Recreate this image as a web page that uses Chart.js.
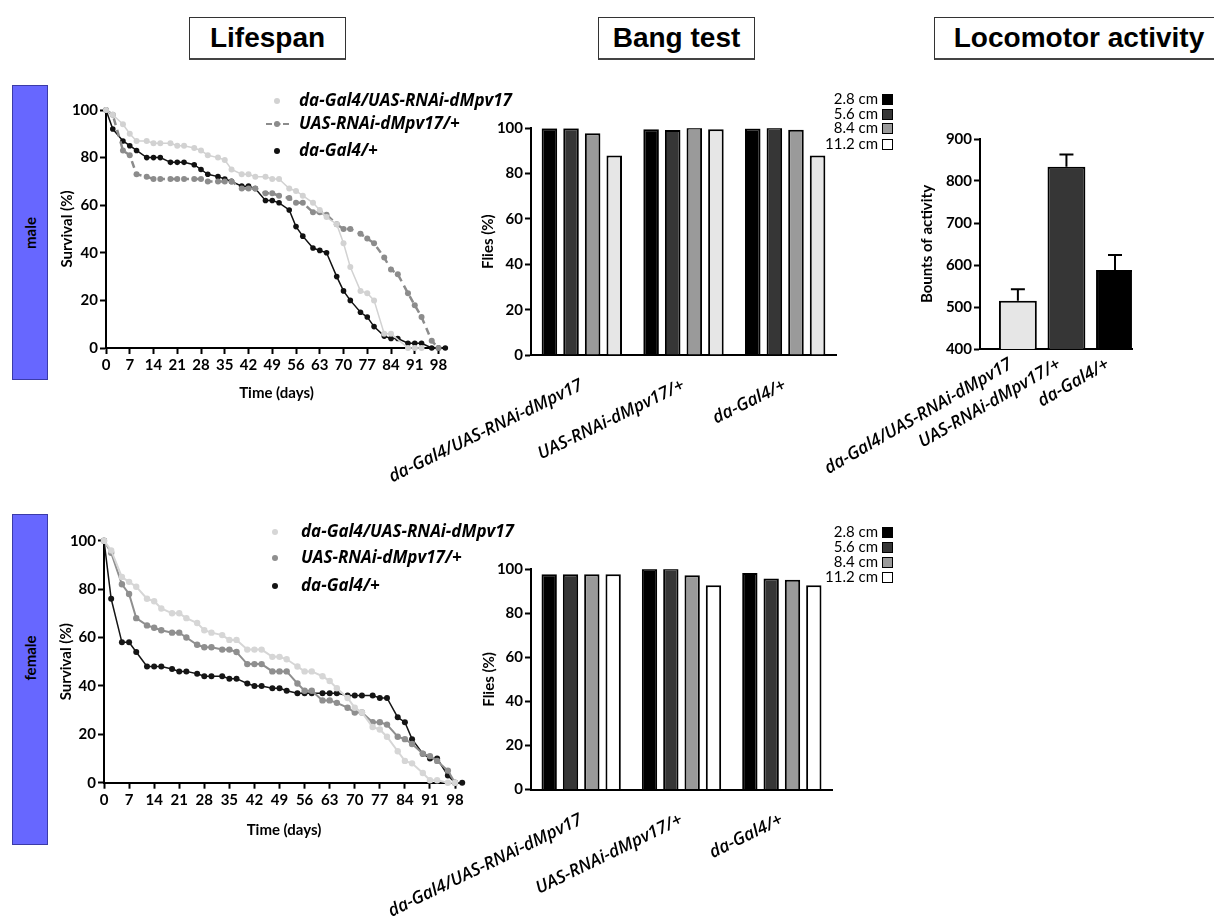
<!DOCTYPE html>
<html>
<head>
<meta charset="utf-8">
<script src="https://cdn.jsdelivr.net/npm/chart.js@4.4.1/dist/chart.umd.min.js"></script>
<style>
  body { margin: 0; background: #fff; width: 1214px; height: 921px; position: relative; overflow: hidden; }
  canvas { position: absolute; }
  .title { position: absolute; top: 17px; height: 43px; border: 1px solid #333; border-bottom: 2px solid #444; box-sizing: border-box;
           font: bold 28px "Liberation Sans", Arial, sans-serif; display: flex; align-items: center; justify-content: center; background: #fff; }
  .side { position: absolute; left: 12px; width: 36px; background: #6767ff; border: 1px solid #3b3ba8; box-sizing: border-box; }
  .side span { position: absolute; left: 50%; transform: translate(-50%, -50%) rotate(-90deg); font: bold 15px Lato, sans-serif; white-space: nowrap; }
  .lg { position: absolute; font: italic bold 17px "Open Sans", sans-serif; white-space: nowrap; z-index: 5; }
  .mk { position: absolute; z-index: 5; }
  .bl { position: absolute; font: 15px Lato, sans-serif; white-space: nowrap; text-align: right; z-index: 5; }
  .sq { position: absolute; width: 11px; height: 11px; border: 1.5px solid #000; box-sizing: border-box; z-index: 5; }
</style>
</head>
<body>
<div class="title" style="left:189px;width:157px">Lifespan</div>
<div class="title" style="left:598px;width:157px">Bang test</div>
<div class="title" style="left:934px;width:290px">Locomotor activity</div>
<div class="side" style="top:85px;height:295px"><span style="top:147px">male</span></div>
<div class="side" style="top:514px;height:331px"><span style="top:143px">female</span></div>

<canvas id="maleLife" width="430" height="330" style="left:40px;top:90px"></canvas>
<canvas id="femLife" width="440" height="330" style="left:40px;top:520px"></canvas>
<canvas id="maleBang" width="540" height="400" style="left:320px;top:100px"></canvas>
<canvas id="femBang" width="540" height="390" style="left:320px;top:530px"></canvas>
<canvas id="loco" width="454" height="360" style="left:760px;top:120px"></canvas>

<script>
// survival sampling days (shared by all lifespan series)
const days = [0, 2, 5, 7, 9, 12, 14, 16, 19, 21, 23, 26, 28, 30, 33, 35, 37, 40, 42, 44, 47, 49, 51,
  54, 56, 58, 61, 63, 65, 68, 70, 72, 75, 77, 79, 82, 84, 86, 89, 91, 93, 96, 98, 100];
const dayTicks = [0, 7, 14, 21, 28, 35, 42, 49, 56, 63, 70, 77, 84, 91, 98];
const genotypes = ['da-Gal4/UAS-RNAi-dMpv17', 'UAS-RNAi-dMpv17/+', 'da-Gal4/+'];

// male survival (%)
const maleKD = [100, 98, 94, 90, 87, 87, 86, 86, 86, 85, 85, 84, 83, 81, 80, 79, 75, 73, 73, 72, 72, 71, 71,
  67, 66, 64, 61, 58, 55, 52, 44, 34, 24, 23, 20, 6, 6, null, 0, 0, 0, null, null, null];
const maleUAS = [100, 98, 83, 81, 73, 72, 71, 71, 71, 71, 71, 71, 71, 70, 70, 70, 70, 67, 67, 67, 65, 65, 64,
  63, 61, 61, 57, 57, 56, 52, 50, 50, 48, 46, 44, 38, 33, 31, 23, 18, 13, 3, 0, null];
const maleGal4 = [100, 92, 87, 85, 83, 80, 80, 80, 78, 78, 78, 77, 75, 73, 72, 71, 70, 68, 68, 67, 62, 62, 61,
  58, 51, 47, 42, 41, 40, 30, 24, 20, 15, 13, 9, 5, 4, 4, 2, 2, 2, 0, 0, 0];

// female survival (%)
const femKD = [100, 96, 85, 83, 81, 76, 75, 72, 70, 70, 68, 66, 63, 62, 61, 59, 59, 55, 55, 55, 52, 52, 51,
  48, 46, 46, 44, 42, 39, 35, 31, 29, 23, 22, 19, 13, 9, 8, 4, 1, 1, 0, 0, null];
const femUAS = [100, 95, 82, 78, 68, 65, 64, 63, 62, 62, 60, 57, 56, 56, 55, 55, 54, 49, 49, 49, 46, 46, 46,
  41, 38, 38, 34, 34, 33, 31, 29, 29, 25, 25, 24, 19, 18, 16, 12, 11, 9, 5, 0, null];
const femGal4 = [100, 76, 58, 58, 54, 48, 48, 48, 47, 46, 46, 45, 44, 44, 44, 43, 43, 41, 40, 40, 39, 39, 38,
  37, 37, 37, 37, 37, 37, 36, 36, 36, 36, 35, 35, 27, 25, 18, 12, 10, 10, 3, 0, 0];

// bang test, flies (%) per drop height
const heights = ['2.8 cm', '5.6 cm', '8.4 cm', '11.2 cm'];
const maleBang28 = [100, 99.6, 99.9];
const maleBang56 = [100, 99.3, 100.4];
const maleBang84 = [97.8, 100.3, 99.4];
const maleBang112 = [88, 99.6, 88];
const femBang28 = [97.8, 100.2, 98.3];
const femBang56 = [97.7, 100.5, 95.8];
const femBang84 = [97.7, 97.3, 95.2];
const femBang112 = [97.7, 92.7, 92.7];

// locomotor activity
const locoMeans = [515, 834, 588];
const locoErr = [27, 29, 36];

const tickFont = { family: 'Lato', weight: 'bold', size: 15 };
const titleFont = { family: 'Lato', weight: 'bold', size: 15 };
const catFont = { family: 'Open Sans', style: 'italic', weight: '600', size: 17.5 };

function pts(vals) {
  return days.map((d, i) => ({ x: d, y: vals[i] })).filter((p) => p.y !== null);
}

function grid(drawTicks) {
  return { display: true, drawOnChartArea: false, drawTicks: drawTicks, tickLength: 6, tickWidth: 2, tickColor: '#000', offset: false };
}
const border = { display: true, color: '#000', width: 2 };

function line(vals, color, width, radius, dash) {
  return {
    data: pts(vals), borderColor: color, backgroundColor: color, pointBackgroundColor: color,
    borderWidth: width, pointRadius: radius, pointBorderWidth: 0, borderDash: dash || [], tension: 0, clip: false
  };
}

function lifespan(id, sets, g) {
  new Chart(document.getElementById(id), {
    type: 'line',
    data: { datasets: sets },
    options: {
      responsive: false, animation: false,
      layout: { padding: { top: g.padTop, right: g.padRight } },
      plugins: { legend: { display: false }, tooltip: { enabled: false } },
      scales: {
        x: {
          type: 'linear', min: 0, max: 100.5,
          afterBuildTicks: (a) => { a.ticks = dayTicks.map((v) => ({ value: v })); },
          afterFit: (s) => { s.height = g.xh; },
          ticks: { font: tickFont, color: '#000', padding: 2, maxRotation: 0, autoSkip: false },
          title: { display: true, text: 'Time (days)', font: titleFont, color: '#000', padding: { top: 0, bottom: g.xt } },
          grid: grid(true), border: border
        },
        y: {
          min: 0, max: 100,
          ticks: { stepSize: 20, font: tickFont, color: '#000', padding: 2 },
          afterFit: (s) => { s.width = g.yw; },
          title: { display: true, text: 'Survival (%)', font: titleFont, color: '#000', padding: { top: g.yt, bottom: 0 } },
          grid: grid(true), border: border
        }
      }
    }
  });
}

lifespan('maleLife', [
  line(maleKD, '#d2d2d2', 1.5, 3),
  line(maleUAS, '#8c8c8c', 2.5, 3, [7, 5]),
  line(maleGal4, '#111', 1.5, 2.8)
], { padTop: 20, padRight: 23, xh: 72, xt: 18, yw: 66, yt: 18 });

lifespan('femLife', [
  line(femKD, '#d6d6d6', 2, 3.2),
  line(femUAS, '#8f8f8f', 2, 3.2),
  line(femGal4, '#151515', 1.5, 3)
], { padTop: 20.7, padRight: 16, xh: 67.3, xt: 11, yw: 64, yt: 17 });

function bang(id, vals, lightFill, g) {
  const fills = ['#000', '#363636', '#9a9a9a', lightFill];
  new Chart(document.getElementById(id), {
    type: 'bar',
    data: {
      labels: genotypes,
      datasets: heights.map((h, k) => ({
        label: h, data: vals[k], backgroundColor: fills[k], borderColor: '#000', borderWidth: 2,
        categoryPercentage: 0.85, barPercentage: 0.72
      }))
    },
    options: {
      responsive: false, animation: false,
      layout: { padding: { top: g.padTop, right: g.padRight } },
      plugins: { legend: { display: false }, tooltip: { enabled: false } },
      scales: {
        x: {
          afterFit: (s) => { s.height = g.xh; },
          ticks: { font: catFont, color: '#000', minRotation: 26, maxRotation: 26, autoSkip: false,
            padding: 20, labelOffset: 0 },
          grid: grid(false), border: border
        },
        y: {
          min: 0, max: 100,
          ticks: { stepSize: 20, font: tickFont, color: '#000', padding: 2 },
          afterFit: (s) => { s.width = g.yw; },
          title: { display: true, text: 'Flies (%)', font: titleFont, color: '#000', padding: { top: g.yt, bottom: 0 } },
          grid: grid(true), border: border
        }
      }
    }
  });
}

bang('maleBang', [maleBang28, maleBang56, maleBang84, maleBang112], '#e6e6e6',
  { padTop: 28.3, padRight: 24, xh: 145, yw: 211, yt: 159 });
bang('femBang', [femBang28, femBang56, femBang84, femBang112], '#fff',
  { padTop: 39.3, padRight: 28, xh: 130.5, yw: 211, yt: 160 });

const errorBars = {
  id: 'errorBars',
  afterDatasetsDraw(chart) {
    const meta = chart.getDatasetMeta(0);
    const y = chart.scales.y;
    const ctx = chart.ctx;
    ctx.save();
    ctx.strokeStyle = '#000';
    ctx.lineWidth = 2;
    meta.data.forEach((bar, i) => {
      const top = y.getPixelForValue(locoMeans[i] + locoErr[i]);
      ctx.beginPath();
      ctx.moveTo(bar.x, bar.y);
      ctx.lineTo(bar.x, top);
      ctx.moveTo(bar.x - 7, top);
      ctx.lineTo(bar.x + 7, top);
      ctx.stroke();
    });
    ctx.restore();
  }
};

new Chart(document.getElementById('loco'), {
  type: 'bar',
  data: {
    datasets: [{
      data: locoMeans.map((v, i) => ({ x: i, y: v })),
      backgroundColor: ['#e6e6e6', '#363636', '#000'], borderColor: '#000', borderWidth: 2,
      categoryPercentage: 1, barPercentage: 0.78
    }]
  },
  options: {
    responsive: false, animation: false,
    layout: { padding: { top: 19, right: 82 } },
    plugins: { legend: { display: false }, tooltip: { enabled: false } },
    scales: {
      x: {
        type: 'linear', min: -0.78, max: 2.35, offset: false,
        afterBuildTicks: (a) => { a.ticks = genotypes.map((g, i) => ({ value: i })); },
        afterFit: (s) => { s.height = 131; },
        ticks: { font: catFont, color: '#000', minRotation: 30, maxRotation: 30, autoSkip: false, padding: 5,
          labelOffset: -7, callback: (v) => genotypes[v] },
        grid: grid(false), border: border
      },
      y: {
        min: 400, max: 900,
        ticks: { stepSize: 100, font: tickFont, color: '#000', padding: 2 },
        afterFit: (s) => { s.width = 220; },
        title: { display: true, text: 'Bounts of activity', font: titleFont, color: '#000', padding: { top: 158.5, bottom: 0 } },
        grid: grid(true), border: border
      }
    }
  },
  plugins: [errorBars]
});

// lifespan legends (html)
function lifeLegend(rows, textX) {
  rows.forEach((r, i) => {
    const t = document.createElement('div');
    t.className = 'lg';
    t.textContent = genotypes[i];
    t.style.left = textX + 'px';
    t.style.top = (r.y - 13) + 'px';
    document.body.appendChild(t);
    if (r.dash) {
      const d = document.createElement('div');
      d.className = 'mk';
      d.style.cssText += `left:${r.x - 11}px;top:${r.y - 1}px;width:23px;border-top:2.5px dashed ${r.color};`;
      document.body.appendChild(d);
    }
    const m = document.createElement('div');
    m.className = 'mk';
    m.style.cssText += `left:${r.x - 3}px;top:${r.y - 3}px;width:6px;height:6px;border-radius:50%;background:${r.color};`;
    document.body.appendChild(m);
  });
}
lifeLegend([
  { x: 277, y: 101, color: '#d2d2d2' },
  { x: 277, y: 124, color: '#8c8c8c', dash: true },
  { x: 277, y: 151, color: '#111' }
], 299);
lifeLegend([
  { x: 275, y: 532, color: '#d6d6d6' },
  { x: 275, y: 558, color: '#8f8f8f' },
  { x: 275, y: 586, color: '#151515' }
], 301);

// bang test legends (html)
function bangLegend(ys, lightFill) {
  const fills = ['#000', '#363636', '#9a9a9a', lightFill];
  heights.forEach((h, k) => {
    const t = document.createElement('div');
    t.className = 'bl';
    t.textContent = h;
    t.style.right = (1214 - 878) + 'px';
    t.style.top = (ys[k] - 10) + 'px';
    document.body.appendChild(t);
    const s = document.createElement('div');
    s.className = 'sq';
    s.style.left = '882px';
    s.style.top = (ys[k] - 5) + 'px';
    s.style.background = fills[k];
    document.body.appendChild(s);
  });
}
bangLegend([99, 113.5, 127.5, 144], '#fff');
bangLegend([532, 546.5, 561.5, 577], '#fff');
</script>
</body>
</html>
